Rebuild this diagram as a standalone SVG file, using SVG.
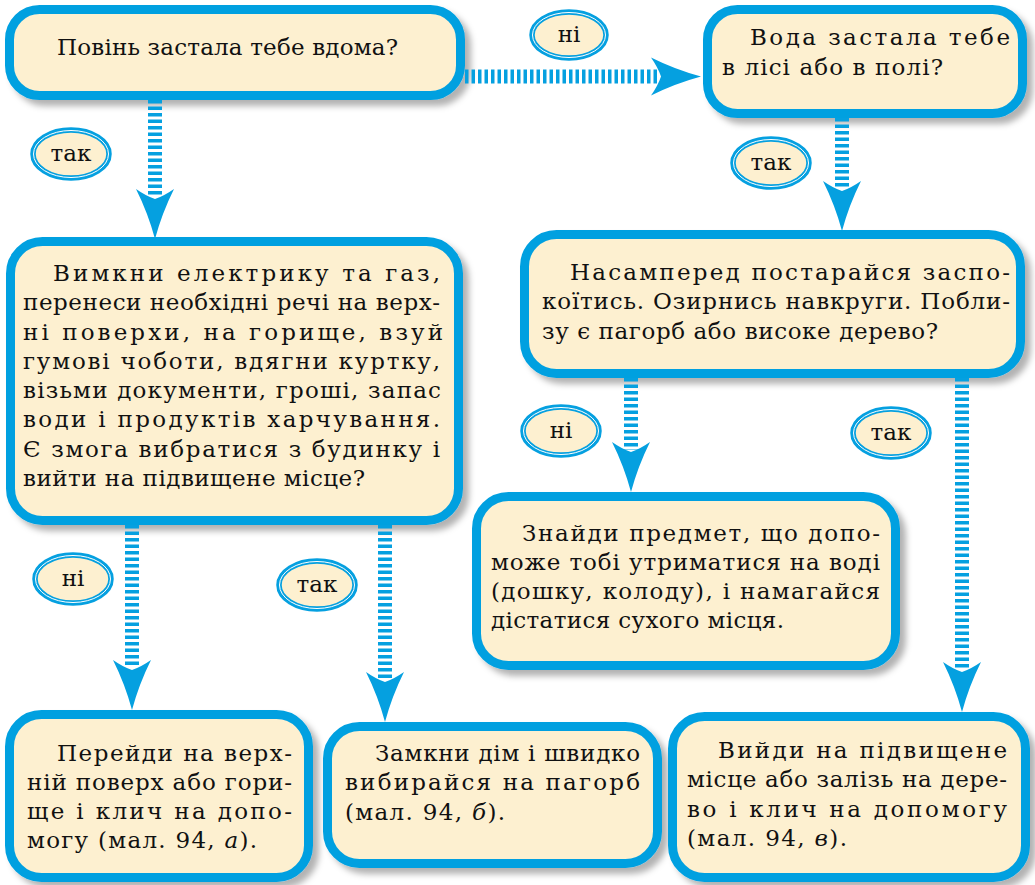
<svg xmlns="http://www.w3.org/2000/svg" width="1035" height="885" viewBox="0 0 1035 885">
<style>
.box{fill:#fdf0d0;stroke:#05a0e0;stroke-width:9;filter:url(#sh)}
.t{font-family:"DejaVu Serif",serif;font-size:23px;fill:#111111}
.c{font-family:"DejaVu Serif",serif;font-size:23px;fill:#111111}
.shaft{stroke:#05a0e0;stroke-width:14;stroke-dasharray:3.5 3;fill:none}
.head{fill:#05a0e0}
.lb{fill:#fdf0d0;stroke:#05a0e0;stroke-width:5.5}
.lbw{fill:none;stroke:#ffffff;stroke-width:1}
.lt{font-family:"DejaVu Serif",serif;font-size:23px;fill:#111111;text-anchor:middle}
</style>
<defs>
<filter id="sh" x="-10%" y="-10%" width="125%" height="130%">
<feDropShadow dx="6" dy="6" stdDeviation="3" flood-color="#000" flood-opacity="0.3"/>
</filter>
<path id="hd" class="head" d="M-19,0 Q-9,7 0,10 Q9,7 19,0 Q7,24 0,50 Q-7,24 -19,0 Z"/>
</defs>
<rect width="1035" height="885" fill="#ffffff"/>

<g id="n1">
<rect class="box" x="9.5" y="9.5" width="451" height="86" rx="30"/>
<text class="c" x="57" y="55" textLength="341" lengthAdjust="spacing">Повінь застала тебе вдома?</text>
</g>

<g id="n2">
<rect class="box" x="707.5" y="9.5" width="315" height="104" rx="30"/>
<text class="t" x="750" y="45" textLength="260" lengthAdjust="spacing">Вода застала тебе</text>
<text class="t" x="722" y="75" textLength="221" lengthAdjust="spacing">в лісі або в полі?</text>
</g>

<g id="n3">
<rect class="box" x="10.5" y="241.5" width="448" height="279" rx="32"/>
<text class="t" x="53" y="281" textLength="387" lengthAdjust="spacing">Вимкни електрику та газ,</text>
<text class="t" x="23" y="310" textLength="417" lengthAdjust="spacing">перенеси необхідні речі на верх-</text>
<text class="t" x="23" y="340" textLength="420" lengthAdjust="spacing">ні поверхи, на горище, взуй</text>
<text class="t" x="23" y="369" textLength="417" lengthAdjust="spacing">гумові чоботи, вдягни куртку,</text>
<text class="t" x="23" y="398" textLength="418" lengthAdjust="spacing">візьми документи, гроші, запас</text>
<text class="t" x="23" y="427" textLength="417" lengthAdjust="spacing">води і продуктів харчування.</text>
<text class="t" x="23" y="457" textLength="417" lengthAdjust="spacing">Є змога вибратися з будинку і</text>
<text class="t" x="23" y="486" textLength="342" lengthAdjust="spacing">вийти на підвищене місце?</text>
</g>

<g id="n4">
<rect class="box" x="524.5" y="234.5" width="496" height="139" rx="32"/>
<text class="t" x="570" y="280" textLength="440" lengthAdjust="spacing">Насамперед постарайся заспо-</text>
<text class="t" x="542" y="309" textLength="468" lengthAdjust="spacing">коїтись. Озирнись навкруги. Побли-</text>
<text class="t" x="542" y="339" textLength="396" lengthAdjust="spacing">зу є пагорб або високе дерево?</text>
</g>

<g id="n5">
<rect class="box" x="476.5" y="496.5" width="419" height="169" rx="32"/>
<text class="t" x="522" y="541" textLength="358" lengthAdjust="spacing">Знайди предмет, що допо-</text>
<text class="t" x="491" y="570" textLength="389" lengthAdjust="spacing">може тобі утриматися на воді</text>
<text class="t" x="491" y="599" textLength="389" lengthAdjust="spacing">(дошку, колоду), і намагайся</text>
<text class="t" x="491" y="628" textLength="293" lengthAdjust="spacing">дістатися сухого місця.</text>
</g>

<g id="n6">
<rect class="box" x="9.5" y="714.5" width="299" height="163" rx="32"/>
<text class="c" x="57" y="761" textLength="235" lengthAdjust="spacing">Перейди на верх-</text>
<text class="c" x="27" y="790" textLength="265" lengthAdjust="spacing">ній поверх або гори-</text>
<text class="c" x="27" y="819" textLength="265" lengthAdjust="spacing">ще і клич на допо-</text>
<text class="c" x="27" y="848" textLength="230" lengthAdjust="spacing">могу (мал. 94, <tspan font-style="italic">а</tspan>).</text>
</g>

<g id="n7">
<rect class="box" x="327.5" y="726.5" width="330" height="137" rx="32"/>
<text class="c" x="375" y="761" textLength="265" lengthAdjust="spacing">Замкни дім і швидко</text>
<text class="c" x="345" y="790" textLength="295" lengthAdjust="spacing">вибирайся на пагорб</text>
<text class="c" x="345" y="820" textLength="160" lengthAdjust="spacing">(мал. 94, <tspan font-style="italic">б</tspan>).</text>
</g>

<g id="n8">
<rect class="box" x="672.5" y="716.5" width="353" height="161" rx="32"/>
<text class="t" x="718" y="758" textLength="289" lengthAdjust="spacing">Вийди на підвищене</text>
<text class="t" x="687" y="787" textLength="320" lengthAdjust="spacing">місце або залізь на дере-</text>
<text class="t" x="687" y="817" textLength="320" lengthAdjust="spacing">во і клич на допомогу</text>
<text class="t" x="687" y="846" textLength="160" lengthAdjust="spacing">(мал. 94, <tspan font-style="italic">в</tspan>).</text>
</g>

<g id="connectors">
<line class="shaft" x1="155" y1="100" x2="155" y2="197"/>
<use href="#hd" transform="translate(155,189)"/>
<line class="shaft" x1="465" y1="76.5" x2="659" y2="76.5"/>
<use href="#hd" transform="translate(651,76.5) rotate(-90)"/>
<line class="shaft" x1="842" y1="118" x2="842" y2="189"/>
<use href="#hd" transform="translate(842,181)"/>
<line class="shaft" x1="631" y1="378" x2="631" y2="450"/>
<use href="#hd" transform="translate(631,442)"/>
<line class="shaft" x1="962" y1="378" x2="962" y2="670"/>
<use href="#hd" transform="translate(962,662)"/>
<line class="shaft" x1="132" y1="525" x2="132" y2="668"/>
<use href="#hd" transform="translate(132,660)"/>
<line class="shaft" x1="385" y1="525" x2="385" y2="680"/>
<use href="#hd" transform="translate(385,672)"/>
</g>

<g id="labels">
<g><ellipse class="lb" cx="569" cy="35" rx="37" ry="23"/><ellipse class="lbw" cx="569" cy="35" rx="36.5" ry="22.5"/><text class="lt" x="569" y="42">ні</text></g>
<g><ellipse class="lb" cx="71" cy="154" rx="38" ry="24"/><ellipse class="lbw" cx="71" cy="154" rx="37.5" ry="23.5"/><text class="lt" x="71" y="161">так</text></g>
<g><ellipse class="lb" cx="771" cy="163" rx="38" ry="24"/><ellipse class="lbw" cx="771" cy="163" rx="37.5" ry="23.5"/><text class="lt" x="771" y="170">так</text></g>
<g><ellipse class="lb" cx="561" cy="431" rx="38" ry="24"/><ellipse class="lbw" cx="561" cy="431" rx="37.5" ry="23.5"/><text class="lt" x="561" y="438">ні</text></g>
<g><ellipse class="lb" cx="891" cy="433" rx="38" ry="24"/><ellipse class="lbw" cx="891" cy="433" rx="37.5" ry="23.5"/><text class="lt" x="891" y="440">так</text></g>
<g><ellipse class="lb" cx="73" cy="579" rx="38" ry="24"/><ellipse class="lbw" cx="73" cy="579" rx="37.5" ry="23.5"/><text class="lt" x="73" y="586">ні</text></g>
<g><ellipse class="lb" cx="317" cy="585" rx="38" ry="24"/><ellipse class="lbw" cx="317" cy="585" rx="37.5" ry="23.5"/><text class="lt" x="317" y="592">так</text></g>
</g>
</svg>
